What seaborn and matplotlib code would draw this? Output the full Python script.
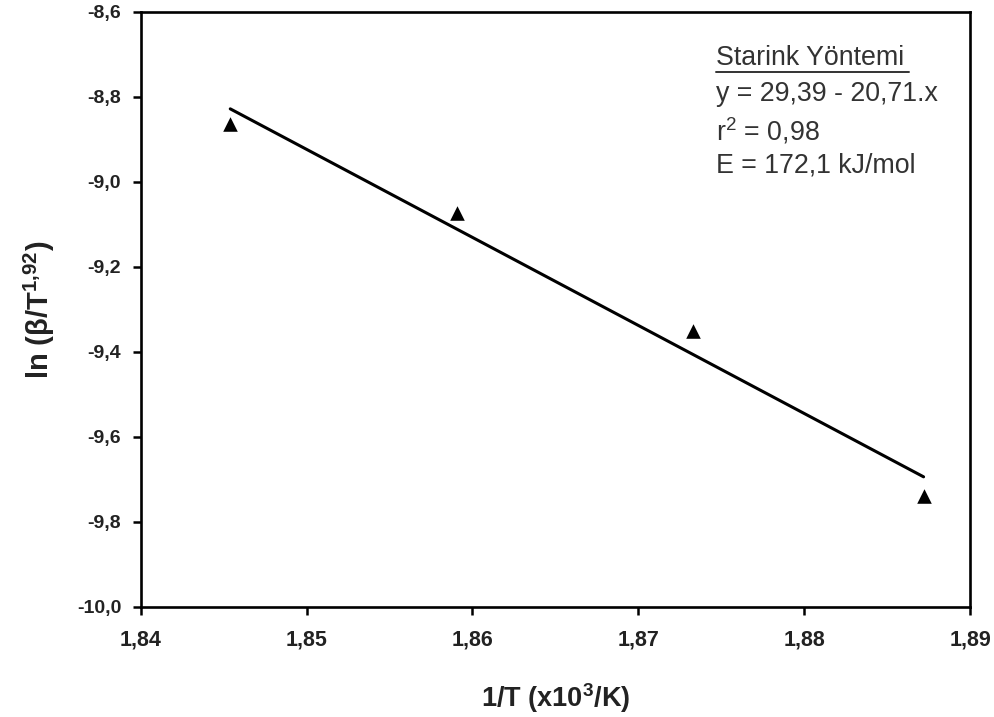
import numpy as np
import pandas as pd
import matplotlib
matplotlib.use("Agg")
import matplotlib.pyplot as plt
import seaborn as sns

# Data
inv_T = [1.8454, 1.8591, 1.8733, 1.8872]
ln_beta = [-8.863, -9.073, -9.350, -9.740]
intercept = 29.39
slope = -20.71

x_ticks = [1.84, 1.85, 1.86, 1.87, 1.88, 1.89]
y_ticks = [-10.0, -9.8, -9.6, -9.4, -9.2, -9.0, -8.8, -8.6]
x_tick_labels = ["1,84", "1,85", "1,86", "1,87", "1,88", "1,89"]
y_tick_labels = ["-10,0", "-9,8", "-9,6", "-9,4", "-9,2", "-9,0", "-8,8", "-8,6"]

sns.set_theme(style="white")
plt.rcParams["font.family"] = ["Liberation Sans", "DejaVu Sans"]
plt.rcParams["mathtext.fontset"] = "custom"
plt.rcParams["mathtext.rm"] = "Liberation Sans"
plt.rcParams["mathtext.it"] = "Liberation Sans"
plt.rcParams["mathtext.bf"] = "Liberation Sans:bold"

df = pd.DataFrame({"x": inv_T, "y": ln_beta})
fit_x = [min(inv_T), max(inv_T)]
fit_df = pd.DataFrame({"x": fit_x, "y": [intercept + slope * v for v in fit_x]})

fig = plt.figure(figsize=(9.95, 7.17), dpi=100)
ax = fig.add_axes([0.1414, 0.1535, 0.8335, 0.830])

sns.lineplot(data=fit_df, x="x", y="y", ax=ax, color="black", linewidth=2.2)
sns.scatterplot(data=df, x="x", y="y", ax=ax, marker="^", s=110, color="black",
                edgecolor="black", linewidth=0, zorder=3)

ax.set_xlim(1.84, 1.89)
ax.set_ylim(-10.0, -8.6)
ax.set_xticks(x_ticks)
ax.set_xticklabels(x_tick_labels, fontsize=15.5, fontweight="bold", color="#222222")
ax.set_yticks(y_ticks)
ax.set_yticklabels(y_tick_labels, fontsize=14, fontweight="bold", color="#222222")
ax.tick_params(axis="both", direction="out", length=6, width=1.8, color="black",
               bottom=True, left=True)
ax.tick_params(axis="x", pad=10)
ax.tick_params(axis="y", pad=8)

for s in ax.spines.values():
    s.set_visible(True)
    s.set_color("black")
    s.set_linewidth(1.9)

ax.set_xlabel("1/T (x10$^{\\mathbf{3}}$/K)", fontsize=19.5, fontweight="bold",
              color="#222222", labelpad=22)
ax.set_ylabel("ln (β/T$^{\\mathbf{1{,}92}}$)", fontsize=21, fontweight="bold",
              color="#222222", labelpad=14)

# Annotation block
tx = 0.694
fs = 19.3
ax.text(tx, 0.922, "Starink Yöntemi", transform=ax.transAxes, fontsize=fs,
        color="#333333", va="center", ha="left")
ax.plot([tx, tx + 0.232], [0.899, 0.899], transform=ax.transAxes, color="#333333",
        linewidth=1.4, clip_on=False)
ax.text(tx, 0.862, "y = 29,39 - 20,71.x", transform=ax.transAxes, fontsize=fs,
        color="#333333", va="center", ha="left")
ax.text(tx, 0.800, "r$^{2}$ = 0,98", transform=ax.transAxes, fontsize=fs,
        color="#333333", va="center", ha="left")
ax.text(tx, 0.741, "E = 172,1 kJ/mol", transform=ax.transAxes, fontsize=fs,
        color="#333333", va="center", ha="left")

fig.savefig("out.png", dpi=100)
